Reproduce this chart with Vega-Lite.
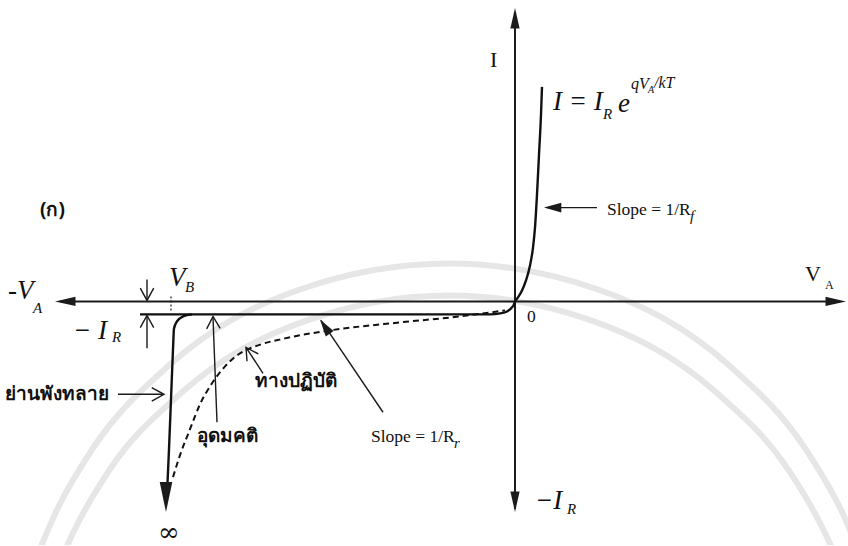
{
  "$schema": "https://vega.github.io/schema/vega-lite/v6.json",
  "width": 848,
  "height": 546,
  "autosize": {"type": "fit", "contains": "padding"},
  "padding": 0,
  "background": "#ffffff",
  "config": {"view": {"stroke": null}},
  "datasets": {
    "sealArcs": [
      {"ring": "outer", "v": -47.5, "i": -24.8},
      {"ring": "outer", "v": -46.0, "i": -21.3},
      {"ring": "outer", "v": -42.2, "i": -14.7},
      {"ring": "outer", "v": -34.6, "i": -6.4},
      {"ring": "outer", "v": -21.5, "i": 1.2},
      {"ring": "outer", "v": -6.6, "i": 3.8},
      {"ring": "outer", "v": 8.3, "i": 1.2},
      {"ring": "outer", "v": 21.4, "i": -6.4},
      {"ring": "outer", "v": 29.0, "i": -14.7},
      {"ring": "outer", "v": 32.8, "i": -21.3},
      {"ring": "outer", "v": 34.3, "i": -24.8},
      {"ring": "inner", "v": -45.2, "i": -25.4},
      {"ring": "inner", "v": -44.3, "i": -23.4},
      {"ring": "inner", "v": -40.7, "i": -17.1},
      {"ring": "inner", "v": -33.3, "i": -9.1},
      {"ring": "inner", "v": -20.8, "i": -1.9},
      {"ring": "inner", "v": -6.6, "i": 0.6},
      {"ring": "inner", "v": 7.6, "i": -1.9},
      {"ring": "inner", "v": 20.1, "i": -9.1},
      {"ring": "inner", "v": 27.5, "i": -17.1},
      {"ring": "inner", "v": 31.1, "i": -23.4},
      {"ring": "inner", "v": 32.0, "i": -25.4}
    ],
    "axes": [
      {"x1": -45.5, "y1": 0, "x2": 32.5, "y2": 0},
      {"x1": 0, "y1": 29, "x2": 0, "y2": -20.8}
    ],
    "curves": [
      {"part": "reverse", "v": -37.5, "i": -1.3},
      {"part": "reverse", "v": -20.0, "i": -1.3},
      {"part": "reverse", "v": -2.5, "i": -1.3},
      {"part": "reverse", "v": -1.5, "i": -1.2},
      {"part": "reverse", "v": -0.8, "i": -1.0},
      {"part": "reverse", "v": -0.4, "i": -0.7},
      {"part": "reverse", "v": -0.1, "i": -0.3},
      {"part": "reverse", "v": 0.0, "i": 0.0},
      {"part": "breakdown", "v": -32.3, "i": -1.3},
      {"part": "breakdown", "v": -33.2, "i": -1.5},
      {"part": "breakdown", "v": -33.8, "i": -2.0},
      {"part": "breakdown", "v": -34.1, "i": -2.7},
      {"part": "breakdown", "v": -34.2, "i": -4.8},
      {"part": "breakdown", "v": -34.4, "i": -9.8},
      {"part": "breakdown", "v": -34.6, "i": -14.8},
      {"part": "breakdown", "v": -34.8, "i": -19.3},
      {"part": "forward", "v": 0.0, "i": 0.0},
      {"part": "forward", "v": 0.3, "i": 0.4},
      {"part": "forward", "v": 0.7, "i": 1.1},
      {"part": "forward", "v": 1.1, "i": 2.1},
      {"part": "forward", "v": 1.5, "i": 3.6},
      {"part": "forward", "v": 1.8, "i": 5.4},
      {"part": "forward", "v": 2.0, "i": 7.4},
      {"part": "forward", "v": 2.2, "i": 10.7},
      {"part": "forward", "v": 2.4, "i": 14.7},
      {"part": "forward", "v": 2.6, "i": 18.7},
      {"part": "forward", "v": 2.7, "i": 21.5}
    ],
    "practical": [
      {"v": -34.2, "i": -17.6},
      {"v": -33.5, "i": -15.4},
      {"v": -32.5, "i": -12.8},
      {"v": -31.5, "i": -10.3},
      {"v": -30.3, "i": -8.2},
      {"v": -29.0, "i": -6.5},
      {"v": -27.5, "i": -5.2},
      {"v": -25.7, "i": -4.4},
      {"v": -23.0, "i": -3.7},
      {"v": -18.5, "i": -2.9},
      {"v": -11.5, "i": -2.1},
      {"v": -5.5, "i": -1.5},
      {"v": -1.0, "i": -0.9}
    ],
    "pointers": [
      {"x1": -36.8, "y1": 2.2, "x2": -36.8, "y2": 0.2},
      {"x1": -36.8, "y1": -4.7, "x2": -36.8, "y2": -1.5},
      {"x1": -29.8, "y1": -12.1, "x2": -30.2, "y2": -1.6},
      {"x1": -25.2, "y1": -7.2, "x2": -26.9, "y2": -4.6},
      {"x1": -13.2, "y1": -11.1, "x2": -19.4, "y2": -1.9},
      {"x1": -39.7, "y1": -9.3, "x2": -35.2, "y2": -9.3},
      {"x1": 8.2, "y1": 9.4, "x2": 3.2, "y2": 9.4}
    ],
    "vb": [{"x1": -34.4, "y1": 0.5, "x2": -34.4, "y2": -0.9}],
    "axisHeads": [
      {"v": -46.0, "i": 0, "heading": 180},
      {"v": 33.1, "i": 0, "heading": 0},
      {"v": 0, "i": 29.4, "heading": 270},
      {"v": 0, "i": -21.1, "heading": 90}
    ],
    "breakHead": [{"v": -34.9, "i": -21.1, "heading": 90}],
    "smallHeads": [
      {"v": 2.9, "i": 9.4, "heading": 180},
      {"v": -19.5, "i": -1.8, "heading": 236}
    ],
    "openHeads": [
      {"v": -36.8, "i": 0.1, "heading": 90},
      {"v": -36.8, "i": -1.4, "heading": 270},
      {"v": -30.2, "i": -1.5, "heading": 268},
      {"v": -26.9, "i": -4.6, "heading": 237},
      {"v": -35.1, "i": -9.3, "heading": 0}
    ],
    "italicLabels": [
      {"v": 3.8, "i": 20.0, "label": "I = I"},
      {"v": 10.3, "i": 19.8, "label": "e"},
      {"v": 2.0, "i": -20.0, "label": "−I"},
      {"v": -44.2, "i": -3.0, "label": "− I"},
      {"v": -50.7, "i": 1.0, "label": "-V"},
      {"v": -34.6, "i": 2.3, "label": "V"}
    ],
    "italicSubs": [
      {"v": 8.8, "i": 18.8, "label": "R"},
      {"v": 5.2, "i": -20.8, "label": "R"},
      {"v": -40.3, "i": -3.6, "label": "R"},
      {"v": -48.2, "i": -0.7, "label": "A"},
      {"v": -33.0, "i": 1.4, "label": "B"},
      {"v": 17.5, "i": 8.6, "label": "f"},
      {"v": -6.1, "i": -14.2, "label": "r"}
    ],
    "exponent": [
      {"v": 11.6, "i": 21.8, "label": "qV"},
      {"v": 13.9, "i": 21.9, "label": "/kT"}
    ],
    "exponentSub": [{"v": 13.3, "i": 21.2, "label": "A"}],
    "plainLabels": [
      {"v": -2.5, "i": 24.2, "label": "I"},
      {"v": 29.0, "i": 2.7, "label": "V"}
    ],
    "plainSubs": [{"v": 31.0, "i": 1.6, "label": "A"}],
    "slopeLabels": [
      {"v": 9.2, "i": 9.2, "label": "Slope = 1/R"},
      {"v": -14.4, "i": -13.6, "label": "Slope = 1/R"},
      {"v": 1.2, "i": -1.6, "label": "0"}
    ],
    "infinity": [{"v": -35.7, "i": -23.2, "label": "∞"}],
    "thaiLabels": [
      {"v": -47.5, "i": 9.2, "label": "(ก)"},
      {"v": -51.0, "i": -9.3, "label": "ย่านพังทลาย"},
      {"v": -26.0, "i": -8.0, "label": "ทางปฏิบัติ"},
      {"v": -31.8, "i": -13.5, "label": "อุดมคติ"}
    ]
  },
  "layer": [
    {
      "data": {"name": "sealArcs"},
      "mark": {"type": "line", "color": "#e6e6e6", "strokeWidth": 6, "interpolate": "monotone", "clip": true},
      "encoding": {
        "x": {"field": "v", "type": "quantitative", "scale": {"domain": [-51.5, 33.3], "nice": false, "zero": false}, "axis": null},
        "y": {"field": "i", "type": "quantitative", "scale": {"domain": [-24.4, 30.2], "nice": false, "zero": false}, "axis": null},
        "detail": {"field": "ring"},
        "order": {"value": null}
      }
    },
    {
      "data": {"name": "axes"},
      "mark": {"type": "rule", "color": "#1b1b1b", "strokeWidth": 2},
      "encoding": {
        "x": {"field": "x1", "type": "quantitative"},
        "y": {"field": "y1", "type": "quantitative"},
        "x2": {"field": "x2"},
        "y2": {"field": "y2"}
      }
    },
    {
      "data": {"name": "curves"},
      "mark": {"type": "line", "color": "#111111", "strokeWidth": 2.4, "interpolate": "monotone"},
      "encoding": {
        "x": {"field": "v", "type": "quantitative"},
        "y": {"field": "i", "type": "quantitative"},
        "detail": {"field": "part"},
        "order": {"value": null}
      }
    },
    {
      "data": {"name": "practical"},
      "mark": {"type": "line", "color": "#111111", "strokeWidth": 2, "strokeDash": [6, 4], "interpolate": "monotone"},
      "encoding": {
        "x": {"field": "v", "type": "quantitative"},
        "y": {"field": "i", "type": "quantitative"},
        "order": {"value": null}
      }
    },
    {
      "data": {"name": "pointers"},
      "mark": {"type": "rule", "color": "#1b1b1b", "strokeWidth": 1.4},
      "encoding": {
        "x": {"field": "x1", "type": "quantitative"},
        "y": {"field": "y1", "type": "quantitative"},
        "x2": {"field": "x2"},
        "y2": {"field": "y2"}
      }
    },
    {
      "data": {"name": "vb"},
      "mark": {"type": "rule", "color": "#1b1b1b", "strokeWidth": 1.2, "strokeDash": [2, 2]},
      "encoding": {
        "x": {"field": "x1", "type": "quantitative"},
        "y": {"field": "y1", "type": "quantitative"},
        "x2": {"field": "x2"},
        "y2": {"field": "y2"}
      }
    },
    {
      "data": {"name": "axisHeads"},
      "mark": {"type": "point", "shape": "M 0 0 L -2 -0.45 L -2 0.45 Z", "filled": true, "size": 420, "color": "#1b1b1b", "opacity": 1},
      "encoding": {
        "x": {"field": "v", "type": "quantitative"},
        "y": {"field": "i", "type": "quantitative"},
        "angle": {"field": "heading", "type": "quantitative", "scale": null}
      }
    },
    {
      "data": {"name": "breakHead"},
      "mark": {"type": "point", "shape": "M 0 0 L -2 -0.42 L -2 0.42 Z", "filled": true, "size": 900, "color": "#1b1b1b", "opacity": 1},
      "encoding": {
        "x": {"field": "v", "type": "quantitative"},
        "y": {"field": "i", "type": "quantitative"},
        "angle": {"field": "heading", "type": "quantitative", "scale": null}
      }
    },
    {
      "data": {"name": "smallHeads"},
      "mark": {"type": "point", "shape": "M 0 0 L -2 -0.55 L -2 0.55 Z", "filled": true, "size": 300, "color": "#1b1b1b", "opacity": 1},
      "encoding": {
        "x": {"field": "v", "type": "quantitative"},
        "y": {"field": "i", "type": "quantitative"},
        "angle": {"field": "heading", "type": "quantitative", "scale": null}
      }
    },
    {
      "data": {"name": "openHeads"},
      "mark": {"type": "point", "shape": "M -1 -0.55 L 0 0 L -1 0.55", "filled": false, "size": 600, "color": "#1b1b1b", "strokeWidth": 1.4, "opacity": 1},
      "encoding": {
        "x": {"field": "v", "type": "quantitative"},
        "y": {"field": "i", "type": "quantitative"},
        "angle": {"field": "heading", "type": "quantitative", "scale": null}
      }
    },
    {
      "data": {"name": "italicLabels"},
      "mark": {"type": "text", "font": "Liberation Serif", "fontStyle": "italic", "fontSize": 27, "align": "left", "baseline": "middle", "color": "#111111"},
      "encoding": {
        "x": {"field": "v", "type": "quantitative"},
        "y": {"field": "i", "type": "quantitative"},
        "text": {"field": "label"}
      }
    },
    {
      "data": {"name": "italicSubs"},
      "mark": {"type": "text", "font": "Liberation Serif", "fontStyle": "italic", "fontSize": 15, "align": "left", "baseline": "middle", "color": "#111111"},
      "encoding": {
        "x": {"field": "v", "type": "quantitative"},
        "y": {"field": "i", "type": "quantitative"},
        "text": {"field": "label"}
      }
    },
    {
      "data": {"name": "exponent"},
      "mark": {"type": "text", "font": "Liberation Serif", "fontStyle": "italic", "fontSize": 16, "align": "left", "baseline": "middle", "color": "#111111"},
      "encoding": {
        "x": {"field": "v", "type": "quantitative"},
        "y": {"field": "i", "type": "quantitative"},
        "text": {"field": "label"}
      }
    },
    {
      "data": {"name": "exponentSub"},
      "mark": {"type": "text", "font": "Liberation Serif", "fontStyle": "italic", "fontSize": 10, "align": "left", "baseline": "middle", "color": "#111111"},
      "encoding": {
        "x": {"field": "v", "type": "quantitative"},
        "y": {"field": "i", "type": "quantitative"},
        "text": {"field": "label"}
      }
    },
    {
      "data": {"name": "plainLabels"},
      "mark": {"type": "text", "font": "Liberation Serif", "fontSize": 22, "align": "left", "baseline": "middle", "color": "#111111"},
      "encoding": {
        "x": {"field": "v", "type": "quantitative"},
        "y": {"field": "i", "type": "quantitative"},
        "text": {"field": "label"}
      }
    },
    {
      "data": {"name": "plainSubs"},
      "mark": {"type": "text", "font": "Liberation Serif", "fontSize": 12, "align": "left", "baseline": "middle", "color": "#111111"},
      "encoding": {
        "x": {"field": "v", "type": "quantitative"},
        "y": {"field": "i", "type": "quantitative"},
        "text": {"field": "label"}
      }
    },
    {
      "data": {"name": "slopeLabels"},
      "mark": {"type": "text", "font": "Liberation Serif", "fontSize": 17.5, "align": "left", "baseline": "middle", "color": "#111111"},
      "encoding": {
        "x": {"field": "v", "type": "quantitative"},
        "y": {"field": "i", "type": "quantitative"},
        "text": {"field": "label"}
      }
    },
    {
      "data": {"name": "infinity"},
      "mark": {"type": "text", "font": "DejaVu Serif", "fontSize": 26, "align": "left", "baseline": "middle", "color": "#111111"},
      "encoding": {
        "x": {"field": "v", "type": "quantitative"},
        "y": {"field": "i", "type": "quantitative"},
        "text": {"field": "label"}
      }
    },
    {
      "data": {"name": "thaiLabels"},
      "mark": {"type": "text", "font": "Noto Sans, DejaVu Sans, sans-serif", "fontWeight": "bold", "fontSize": 19, "align": "left", "baseline": "middle", "color": "#111111"},
      "encoding": {
        "x": {"field": "v", "type": "quantitative"},
        "y": {"field": "i", "type": "quantitative"},
        "text": {"field": "label"}
      }
    }
  ]
}
